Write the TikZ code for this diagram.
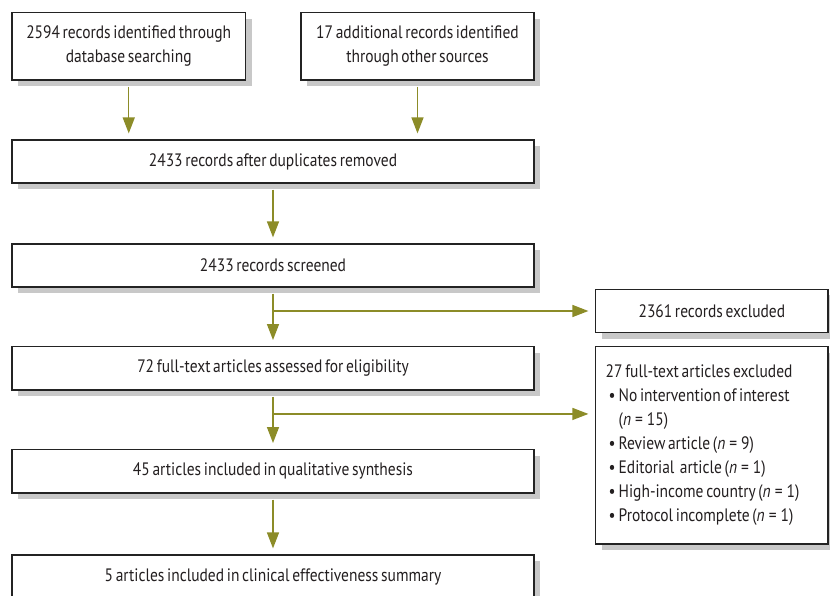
\documentclass[tikz,border=0pt]{standalone}
\usepackage{fontspec}
\setmainfont{PT Sans}[FakeStretch=0.86, WordSpace=0.65]
\usetikzlibrary{arrows.meta,positioning,calc,shadows}
\definecolor{flowolive}{RGB}{140,140,40}
\definecolor{shadowgray}{RGB}{200,200,200}
\definecolor{boxline}{RGB}{35,35,35}
\definecolor{inktext}{RGB}{35,31,32}
\newcommand\ncount[1]{(\textit{n}\kern4pt=\kern4pt#1)}
\begin{document}
\begin{tikzpicture}[x=1pt,y=-1pt,
  box/.style={draw=boxline, fill=white, line width=1.2pt, inner sep=0pt, align=center,
    text=inktext, font=\fontsize{18}{24}\selectfont,
    drop shadow={shadow xshift=6pt, shadow yshift=-6pt, fill=shadowgray, opacity=1}},
  flow/.style={draw=flowolive, line width=1.4pt, -{Triangle[width=12pt,length=16pt]}}]
\useasboundingbox (0,0) rectangle (830,596);
\clip (0,0) rectangle (830,596);
% identification
\node[box, minimum width=233.5pt, minimum height=67.3pt] (dbase) at (128.75,46.35)
  {2594 records identified through\\database searching};
\node[box, minimum width=233pt, minimum height=67.3pt] (other) at (417.5,46.35)
  {17 additional records identified\\through other sources};
\node[box, minimum width=522pt, minimum height=43pt] (dupl) at (273,161.5)
  {2433 records after duplicates removed};
% screening
\node[box, minimum width=522pt, minimum height=43pt] (scrn) at (273,265.5)
  {2433 records screened};
\node[box, minimum width=232.3pt, minimum height=43.4pt] (excl) at (711.85,311)
  {2361 records excluded};
% eligibility
\node[box, minimum width=522pt, minimum height=43.3pt] (full) at (273,368.3)
  {72 full-text articles assessed for eligibility};
\node[box, minimum width=232.3pt, minimum height=197.3pt, align=flush left,
      inner xsep=10pt, text width=212.3pt] (ftxexcl) at (711.85,445.35)
  {27 full-text articles excluded\\
   \hspace*{3pt}•\,No intervention of interest\\
   \hspace*{3pt}\phantom{•\,}\ncount{15}\\
   \hspace*{3pt}•\,Review article \ncount{9}\\
   \hspace*{3pt}•\,Editorial\ \ article \ncount{1}\\
   \hspace*{3pt}•\,High-income country \ncount{1}\\
   \hspace*{3pt}•\,Protocol incomplete \ncount{1}};
% included
\node[box, minimum width=522pt, minimum height=43.3pt] (qual) at (273,471.3)
  {45 articles included in qualitative synthesis};
\node[box, minimum width=522pt, minimum height=43pt] (summ) at (273,576.5)
  {5 articles included in clinical effectiveness summary};
% connectors
\draw[flow, shorten <=6pt, shorten >=6pt] (dbase.south) -- (dbase.south |- dupl.north);
\draw[flow, shorten <=6pt, shorten >=6pt] (other.south) -- (other.south |- dupl.north);
\draw[flow, shorten <=6pt, shorten >=6pt] (dupl) -- (scrn);
\draw[flow, shorten <=6pt, shorten >=6pt] (scrn) -- (full);
\draw[flow, shorten <=6pt, shorten >=6pt] (full) -- (qual);
\draw[flow, shorten <=6pt, shorten >=6pt] (qual) -- (summ);
\coordinate (brone) at (scrn.south |- excl.west);
\coordinate (brtwo) at ($(full.south)!0.4!(qual.north)$);
\draw[flow, shorten >=6.7pt] (brone) -- (excl.west);
\draw[flow, shorten >=6.7pt] (brtwo) -- (brtwo -| ftxexcl.west);
\end{tikzpicture}
\end{document}
